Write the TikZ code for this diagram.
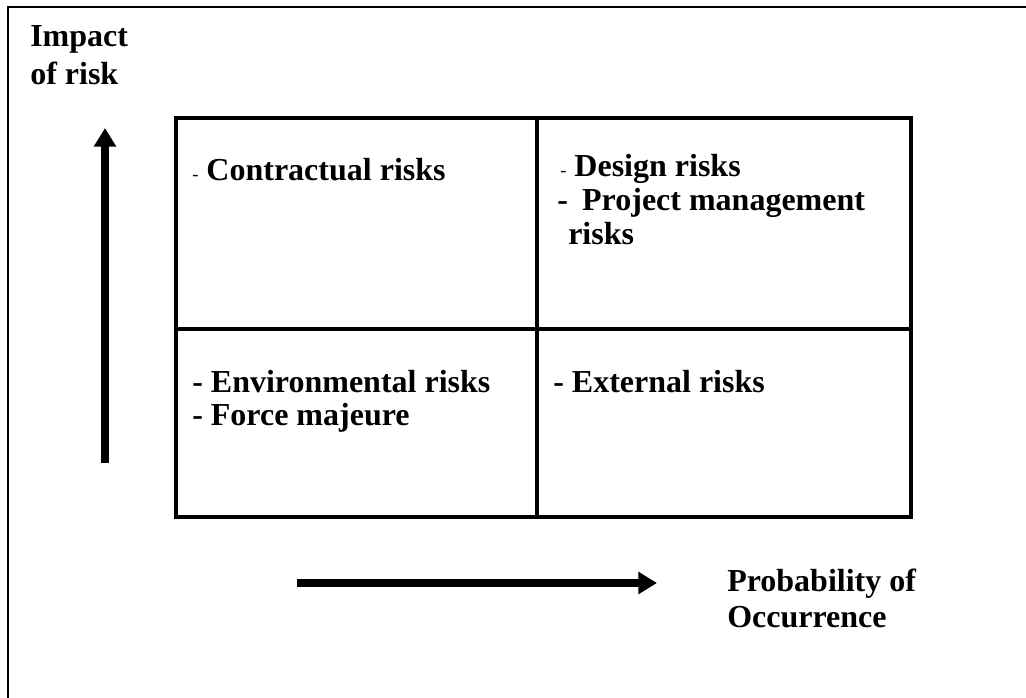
\documentclass[tikz,border=0pt]{standalone}
\usepackage{fontspec}
\setmainfont{Liberation Serif}
\usetikzlibrary{arrows.meta}
\newcommand\smallhy{{\fontsize{14}{14}\selectfont\mdseries -}}
\begin{document}
\begin{tikzpicture}[x=0.75pt,y=-0.75pt,
  lbl/.style={anchor=base west, inner sep=0pt, font=\fontsize{24}{28}\selectfont\bfseries},
  frame/.style={line width=1.8pt},
  grid/.style={line width=2.4pt},
  bigarrow/.style={line width=5.4pt, -{Triangle[width=16pt,length=14pt]}}
]
\useasboundingbox (0,0) rectangle (1026,698);
% outer frame (top and left only)
\draw[frame] (1026,7) -- (8,7) -- (8,698);
% 2x2 grid
\draw[grid] (176,118) rectangle (911,517);
\draw[grid] (537,118) -- (537,517);
\draw[grid] (176,329) -- (911,329);
% axis labels
\node[lbl] (imp1) at (30,47) {Impact};
\node[lbl] (imp2) at (30,85) {of risk};
\node[lbl] (p1) at (727,592) {Probability of};
\node[lbl] (p2) at (727,628) {Occurrence};
% quadrant texts
\node[lbl] (c1) at (192,181) {\smallhy\ Contractual risks};
\node[lbl] (d1) at (560,177) {\smallhy\ Design risks};
\node[lbl] (d2) at (557,211) {-\hspace{10.7pt}Project management};
\node[lbl] (d3) at (568,245) {risks};
\node[lbl] (e1) at (192,393) {- Environmental risks};
\node[lbl] (e2) at (192,426) {- Force majeure};
\node[lbl] (x1) at (553,393) {- External risks};
% arrows
\coordinate (vs) at (105,463);
\coordinate (ve) at (105,128);
\draw[bigarrow] (vs) -- (ve);
\coordinate (hs) at (297,583);
\coordinate (he) at (657,583);
\draw[bigarrow] (hs) -- (he);
\end{tikzpicture}
\end{document}
